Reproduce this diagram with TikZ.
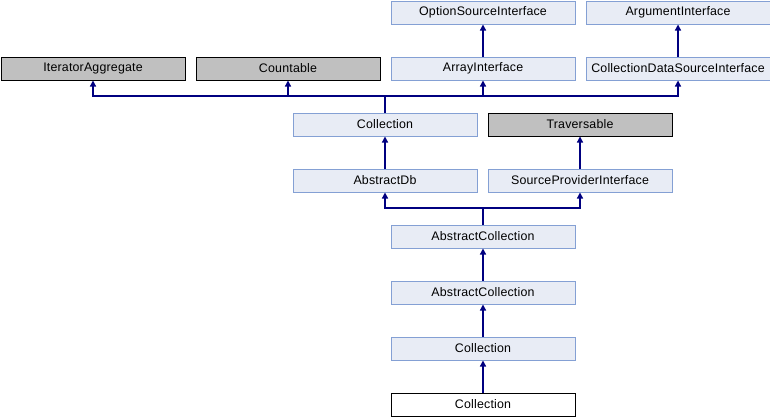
\documentclass[tikz,border=0pt]{standalone}
\usepackage{fontspec}
\setmainfont{Liberation Sans}[LetterSpace=1.5]
\usetikzlibrary{arrows.meta}
\definecolor{boxfill}{HTML}{E8ECF5}
\definecolor{boxline}{HTML}{84A0D4}
\definecolor{grayfill}{HTML}{C0C0C0}
\definecolor{edgecol}{HTML}{000080}
\begin{document}
\begin{tikzpicture}[x=1pt,y=-1pt,
  cls/.style={draw=boxline,fill=boxfill,line width=1pt,minimum width=184pt,minimum height=23pt,inner sep=0pt,anchor=north west,font=\fontsize{12.4}{14}\selectfont},
  ext/.style={cls,draw=black,fill=grayfill},
  self/.style={cls,draw=black,fill=white},
  edge/.style={draw=edgecol,line width=1.3pt,-{Triangle[width=6pt,length=6pt]}}]
\useasboundingbox (0,0) rectangle (770,416);
% row 1
\node[cls] (opt) at (390.5,0.5) {OptionSourceInterface};
\node[cls] (arg) at (585.5,0.5) {ArgumentInterface};
% row 2
\node[ext] (iter) at (0.5,56.5) {IteratorAggregate};
\node[ext] (cnt) at (195.5,56.5) {Countable};
\node[cls] (arr) at (390.5,56.5) {ArrayInterface};
\node[cls] (cds) at (585.5,56.5) {CollectionDataSourceInterface};
% row 3
\node[cls] (coll) at (292.5,112.5) {Collection};
\node[ext] (trav) at (487.5,112.5) {Traversable};
% row 4
\node[cls] (adb) at (292.5,168.5) {AbstractDb};
\node[cls] (spi) at (487.5,168.5) {SourceProviderInterface};
% rows 5-8
\node[cls] (ac1) at (390.5,224.5) {AbstractCollection};
\node[cls] (ac2) at (390.5,280.5) {AbstractCollection};
\node[cls] (c2) at (390.5,336.5) {Collection};
\node[self] (c3) at (390.5,392.5) {Collection};
% junctions
\coordinate (j1) at (coll.north |- 0,96);
\coordinate (j2) at (ac1.north |- 0,208);
% edges
\draw[edge] (arr.north) -- (opt.south);
\draw[edge] (cds.north) -- (arg.south);
\draw[edge] (coll.north) -- (j1) -| (iter.south);
\draw[edge] (coll.north) -- (j1) -| (cnt.south);
\draw[edge] (coll.north) -- (j1) -| (arr.south);
\draw[edge] (coll.north) -- (j1) -| (cds.south);
\draw[edge] (spi.north) -- (trav.south);
\draw[edge] (adb.north) -- (coll.south);
\draw[edge] (ac1.north) -- (j2) -| (adb.south);
\draw[edge] (ac1.north) -- (j2) -| (spi.south);
\draw[edge] (ac2.north) -- (ac1.south);
\draw[edge] (c2.north) -- (ac2.south);
\draw[edge] (c3.north) -- (c2.south);
\end{tikzpicture}
\end{document}
